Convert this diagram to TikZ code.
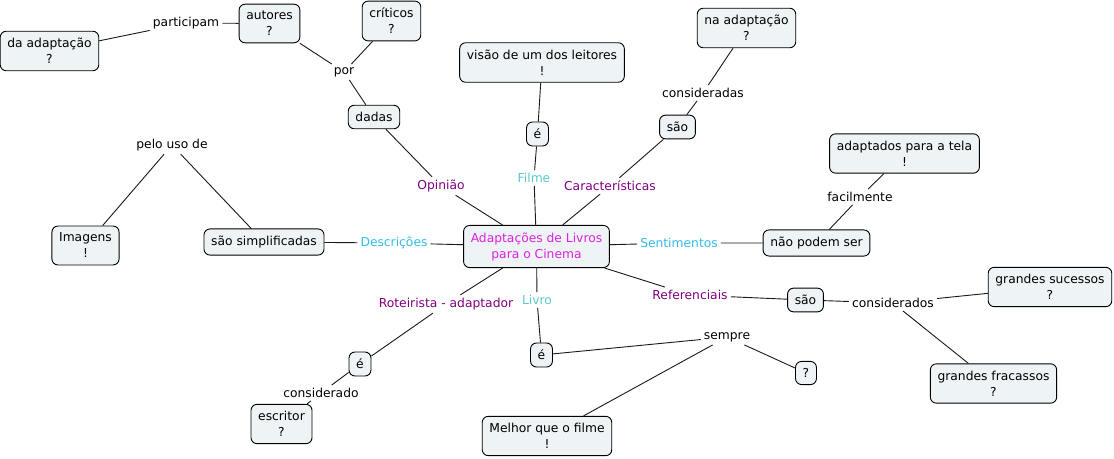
\documentclass[tikz,border=0pt]{standalone}
\usepackage{fontspec}
\setmainfont{DejaVu Sans}
\definecolor{boxfill}{HTML}{EEF3F5}
\definecolor{lnk}{HTML}{800080}
\definecolor{cya}{HTML}{33BBE8}
\definecolor{tea}{HTML}{5CC8D0}
\definecolor{mag}{HTML}{E020E0}
\begin{document}
\begin{tikzpicture}[x=1pt,y=-1pt,
  every node/.style={font=\fontsize{12.3}{16}\selectfont, align=center},
  cbox/.style={draw=black, line width=0.9pt, fill=boxfill, rounded corners=6pt, inner xsep=7.2pt, inner ysep=7pt},
  lab/.style={inner sep=3pt},
  plab/.style={lab, text=lnk},
  clab/.style={lab, text=cya},
  tlab/.style={lab, text=tea},
  conn/.style={draw=black!90, line width=0.9pt}]
\useasboundingbox (0,0) rectangle (1114,458);
% concepts
\node[cbox] (central) at (536.5,246.5) {\textcolor{mag}{Adaptações de Livros}\\\textcolor{mag}{para o Cinema}};
\node[cbox] (daad) at (49.5,51) {da adaptação\\?};
\node[cbox] (autores) at (269.5,23.5) {autores\\?};
\node[cbox] (criticos) at (391.5,21) {críticos\\?};
\node[cbox] (dadas) at (374,117) {dadas};
\node[cbox] (visao) at (542,62.5) {visão de um dos leitores\\!};
\node[cbox] (naad) at (746.5,28) {na adaptação\\?};
\node[cbox] (sao1) at (677.5,127) {são};
\node[cbox] (e1) at (537.5,134) {é};
\node[cbox] (adapt) at (904.5,153.5) {adaptados para a tela\\!};
\node[cbox] (imagens) at (85.5,245.5) {Imagens\\!};
\node[cbox] (simpl) at (264,242) {são simplificadas};
\node[cbox] (naopod) at (816.5,243) {não podem ser};
\node[cbox] (sao2) at (805.5,300) {são};
\node[cbox] (gsuc) at (1050,287) {grandes sucessos\\?};
\node[cbox] (e2) at (541.5,355) {é};
\node[cbox] (quest) at (806,373) {?};
\node[cbox] (gfra) at (993.5,383.5) {grandes fracassos\\?};
\node[cbox] (e3) at (360,364) {é};
\node[cbox] (escritor) at (281.5,424) {escritor\\?};
\node[cbox] (melhor) at (547,436) {Melhor que o filme\\!};
% linking phrases
\node[lab] (particip) at (186,23) {participam};
\node[lab] (por) at (344,72) {por};
\node[lab] (consids) at (703,93) {consideradas};
\node[plab] (opin) at (441,186) {Opinião};
\node[tlab] (filme) at (534,178) {Filme};
\node[plab] (carac) at (610,186) {Características};
\node[lab] (pelo) at (172,145) {pelo uso de};
\node[lab] (facil) at (860,197) {facilmente};
\node[clab] (descr) at (394,243) {Descrições};
\node[clab] (sent) at (679,243) {Sentimentos};
\node[plab] (refer) at (690,295) {Referenciais};
\node[lab] (consdos) at (893,303) {considerados};
\node[tlab] (livro) at (537,300) {Livro};
\node[plab] (roteir) at (446,304) {Roteirista - adaptador};
\node[lab] (sempre) at (727,337) {sempre};
\node[lab] (consdo) at (321,393) {considerado};
% connectors
\path[conn] (daad) -- (particip) (particip) -- (autores);
\path[conn] (autores) -- (por) (criticos) -- (por) (por) -- (dadas);
\path[conn] (dadas) -- (opin) (opin) -- (central);
\path[conn] (visao) -- (e1) (e1) -- (filme) (filme) -- (central);
\path[conn] (naad) -- (consids) (consids) -- (sao1) (sao1) -- (carac) (carac) -- (central);
\path[conn] (pelo) -- (imagens) (pelo) -- (simpl);
\path[conn] (simpl) -- (descr) (descr) -- (central);
\path[conn] (central) -- (sent) (sent) -- (naopod) (naopod) -- (facil) (facil) -- (adapt);
\path[conn] (central) -- (refer) (refer) -- (sao2) (sao2) -- (consdos) (consdos) -- (gsuc) (consdos) -- (gfra);
\path[conn] (central) -- (livro) (livro) -- (e2) (e2) -- (sempre) (sempre) -- (quest) (sempre) -- (melhor);
\path[conn] (central) -- (roteir) (roteir) -- (e3) (e3) -- (consdo) (consdo) -- (escritor);
\end{tikzpicture}
\end{document}
